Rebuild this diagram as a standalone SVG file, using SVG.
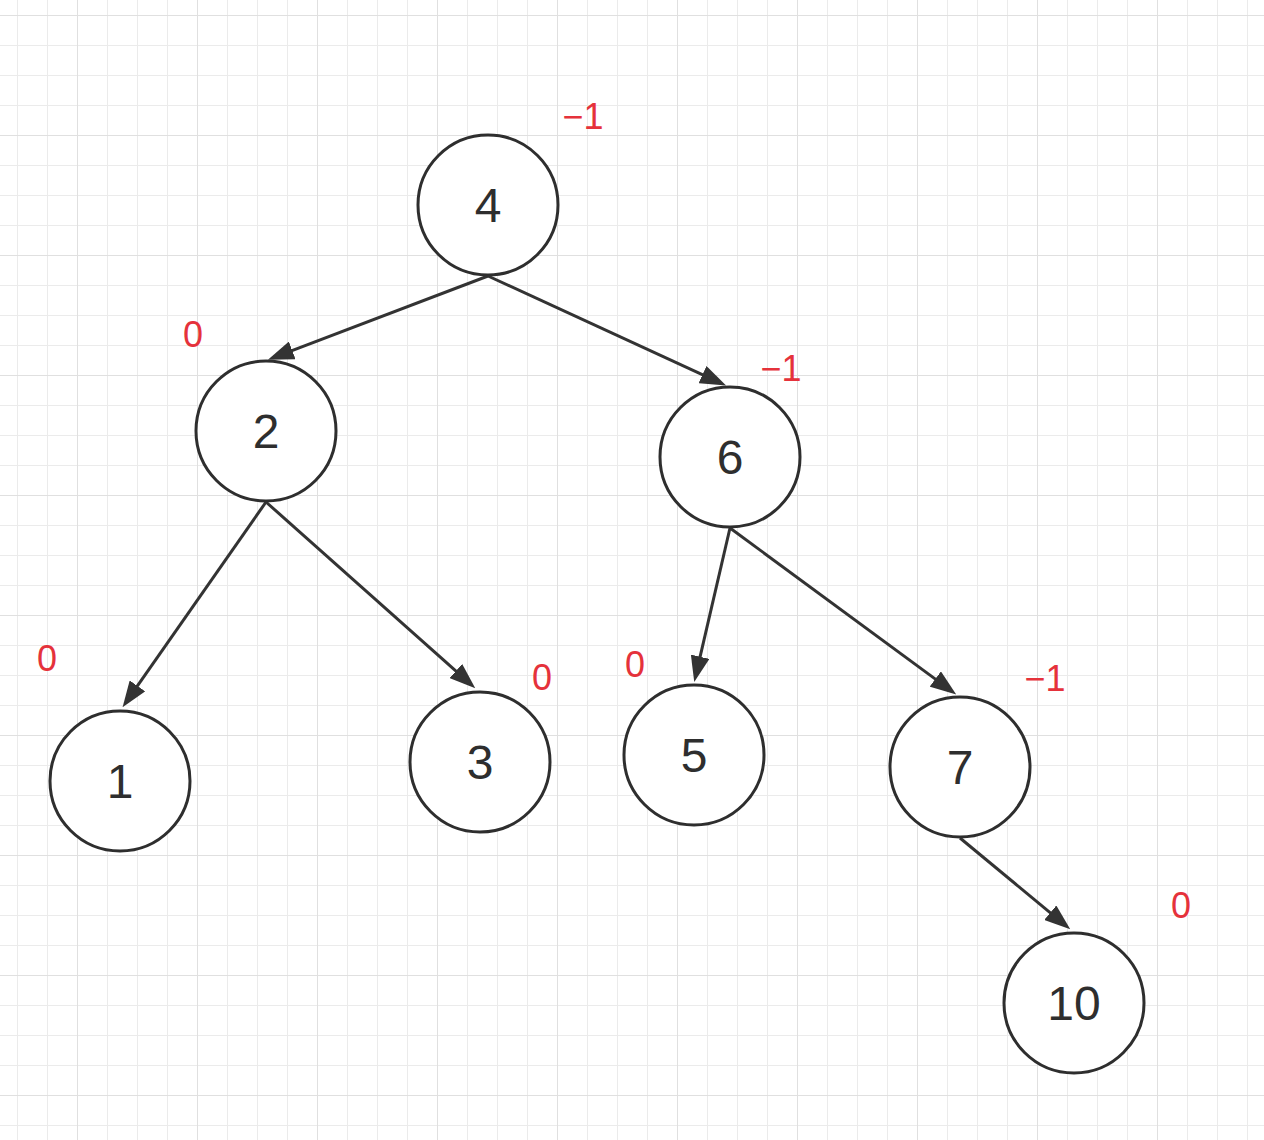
<svg xmlns="http://www.w3.org/2000/svg" width="1264" height="1140" viewBox="0 0 1264 1140">
<style>
.node circle{fill:#fff;stroke:#2e2e2e;stroke-width:3}
.node text{font-family:"Liberation Sans",Arial,sans-serif;font-size:48px;fill:#2e2e2e;text-anchor:middle}
.bf text{font-family:"Liberation Sans",Arial,sans-serif;font-size:36px;fill:#e5323b;text-anchor:middle}
.edges line{stroke:#333;stroke-width:3;marker-end:url(#arr)}
</style>
<defs>
<pattern id="minor" patternUnits="userSpaceOnUse" x="17" y="15" width="30" height="30">
<path d="M0,0 V30 M0,0 H30" fill="none" stroke="#ebebeb" stroke-width="2"/>
</pattern>
<pattern id="major" patternUnits="userSpaceOnUse" x="77" y="15" width="120" height="120">
<path d="M0,0 V120 M0,0 H120" fill="none" stroke="#e0e0e0" stroke-width="2"/>
</pattern>
<marker id="arr" markerUnits="userSpaceOnUse" viewBox="0 0 26 19" refX="1" refY="9.5" markerWidth="26" markerHeight="19" orient="auto">
<path d="M0,0 L26,9.5 L0,19 z" fill="#333"/>
</marker>
</defs>
<rect width="1264" height="1140" fill="#fff"/>
<rect width="1264" height="1140" fill="url(#minor)"/>
<rect width="1264" height="1140" fill="url(#major)"/>
<g id="connectors" class="edges">
<line x1="488" y1="276" x2="291.3" y2="350.8"/>
<line x1="488" y1="276" x2="703.4" y2="375.1"/>
<line x1="266" y1="502" x2="136.9" y2="686.7"/>
<line x1="266" y1="502" x2="456.6" y2="671.7"/>
<line x1="730" y1="528" x2="699.9" y2="657.7"/>
<line x1="730" y1="528" x2="936.1" y2="679.6"/>
<line x1="960" y1="838" x2="1051" y2="913.4"/>
</g>
<g id="node4" class="node"><circle cx="488" cy="205" r="70"/><text x="488" y="222">4</text></g>
<g id="node2" class="node"><circle cx="266" cy="431" r="70"/><text x="266" y="448">2</text></g>
<g id="node6" class="node"><circle cx="730" cy="457" r="70"/><text x="730" y="474">6</text></g>
<g id="node1" class="node"><circle cx="120" cy="781" r="70"/><text x="120" y="798">1</text></g>
<g id="node3" class="node"><circle cx="480" cy="762" r="70"/><text x="480" y="779">3</text></g>
<g id="node5" class="node"><circle cx="694" cy="755" r="70"/><text x="694" y="772">5</text></g>
<g id="node7" class="node"><circle cx="960" cy="767" r="70"/><text x="960" y="784">7</text></g>
<g id="node10" class="node"><circle cx="1074" cy="1003" r="70"/><text x="1074" y="1020">10</text></g>
<g id="balance-factors" class="bf">
<text x="583" y="129">−1</text>
<text x="193" y="347">0</text>
<text x="781" y="381">−1</text>
<text x="47" y="671">0</text>
<text x="542" y="690">0</text>
<text x="635" y="677">0</text>
<text x="1045" y="691">−1</text>
<text x="1181" y="918">0</text>
</g>
</svg>
